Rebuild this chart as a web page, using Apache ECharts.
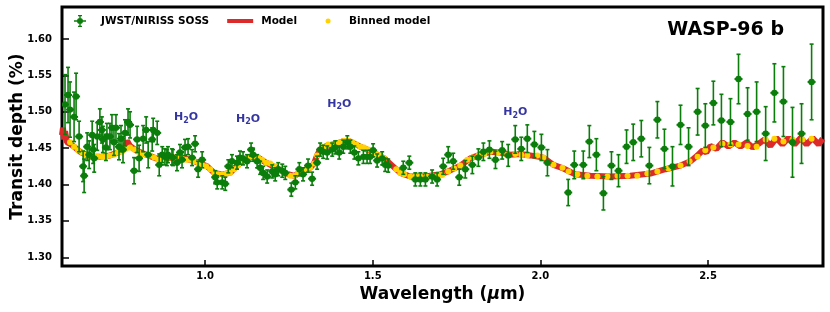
<!DOCTYPE html>
<html>
<head>
<meta charset="utf-8">
<script src="https://cdn.jsdelivr.net/npm/echarts@6.0.0/dist/echarts.min.js"></script>
<style>html,body{margin:0;padding:0;background:#fff}#c{width:830px;height:312px}</style>
</head>
<body>
<div id="c"></div>
<script>
// ---- data (wavelength in micron, transit depth in %) ----
const obsWl = [0.582,0.591,0.597,0.609,0.615,0.624,0.636,0.639,0.648,0.654,0.663,0.666,0.669,0.678,0.686,0.692,0.695,0.704,0.707,0.716,0.722,0.728,0.734,0.743,0.749,0.755,0.761,0.770,0.776,0.788,0.797,0.803,0.815,0.824,0.830,0.842,0.845,0.857,0.863,0.872,0.880,0.886,0.889,0.901,0.904,0.916,0.925,0.931,0.940,0.949,0.961,0.970,0.979,0.991,1.030,1.036,1.051,1.060,1.069,1.080,1.095,1.104,1.113,1.125,1.137,1.143,1.155,1.164,1.173,1.185,1.200,1.209,1.218,1.230,1.239,1.257,1.269,1.281,1.292,1.307,1.319,1.334,1.343,1.352,1.364,1.379,1.388,1.400,1.412,1.424,1.433,1.445,1.457,1.472,1.483,1.492,1.501,1.513,1.528,1.537,1.546,1.591,1.609,1.627,1.642,1.657,1.677,1.692,1.710,1.725,1.740,1.758,1.776,1.797,1.815,1.830,1.848,1.866,1.886,1.904,1.925,1.943,1.961,1.982,2.003,2.021,2.083,2.101,2.128,2.146,2.167,2.188,2.212,2.233,2.257,2.277,2.301,2.325,2.349,2.370,2.394,2.418,2.442,2.469,2.492,2.516,2.540,2.567,2.591,2.618,2.645,2.672,2.698,2.725,2.752,2.779,2.809];
const obsDepth = [1.510,1.523,1.503,1.493,1.521,1.466,1.425,1.412,1.452,1.441,1.468,1.448,1.436,1.466,1.486,1.475,1.462,1.451,1.466,1.466,1.478,1.458,1.478,1.452,1.463,1.448,1.471,1.486,1.482,1.419,1.462,1.436,1.463,1.475,1.441,1.462,1.475,1.471,1.427,1.441,1.438,1.437,1.441,1.438,1.437,1.430,1.444,1.434,1.451,1.452,1.437,1.456,1.421,1.434,1.410,1.403,1.403,1.401,1.425,1.432,1.430,1.437,1.436,1.432,1.448,1.441,1.432,1.423,1.416,1.411,1.418,1.414,1.421,1.419,1.416,1.393,1.403,1.421,1.414,1.426,1.408,1.430,1.448,1.445,1.444,1.448,1.451,1.444,1.452,1.458,1.452,1.444,1.436,1.438,1.438,1.438,1.447,1.433,1.436,1.427,1.426,1.423,1.430,1.407,1.407,1.407,1.411,1.407,1.425,1.441,1.432,1.410,1.421,1.427,1.437,1.445,1.448,1.434,1.447,1.440,1.462,1.449,1.463,1.455,1.451,1.430,1.389,1.427,1.427,1.459,1.441,1.388,1.426,1.419,1.452,1.458,1.463,1.426,1.489,1.449,1.425,1.482,1.452,1.500,1.481,1.512,1.488,1.486,1.545,1.497,1.500,1.470,1.526,1.514,1.458,1.470,1.541];
const obsErr = [0.041,0.038,0.038,0.034,0.032,
  0.021,0.021,0.023,
  0.019,0.019,0.019,0.019,0.019,0.019,
  0.018,0.018,0.018,0.018,0.018,0.018,0.018,0.018,0.018,0.018,0.018,0.018,0.018,0.018,0.018,0.018,0.018,0.018,0.018,0.018,0.018,
  0.016,0.016,0.016,
  0.015,
  0.011,0.011,0.011,0.011,0.011,0.011,0.011,0.011,0.011,0.011,0.011,0.011,0.011,0.011,0.011,
  0.009,0.009,0.009,0.009,0.009,0.009,0.009,0.009,0.009,
  0.009,0.009,0.009,0.009,0.009,0.009,0.009,0.009,0.009,
  0.009,0.009,0.009,0.009,0.009,0.009,0.009,0.009,0.009,
  0.009,0.009,0.009,0.009,0.009,0.009,0.009,0.009,0.009,
  0.009,0.009,0.009,0.009,0.009,0.009,0.009,0.009,0.009,
  0.009,0.009,0.009,0.009,0.009,0.009,0.009,0.009,0.009,
  0.011,0.011,0.011,0.011,
  0.012,0.012,0.012,0.012,0.012,0.012,0.012,
  0.015,0.019,0.016,0.019,0.018,0.018,0.018,
  0.018,0.019,0.019,0.022,0.022,0.023,0.019,0.022,0.023,
  0.025,0.025,0.025,0.025,
  0.027,0.027,0.027,0.026,0.032,0.030,0.030,0.036,0.032,0.034,0.036,0.041,0.037,0.040,0.048,0.048,0.041,0.052];

const modelWl = [0.573,0.576,0.579,0.582,0.588,0.597,0.612,0.627,0.657,0.686,0.716,0.740,0.758,0.767,0.776,0.794,0.824,0.854,0.883,0.925,0.955,0.985,1.006,1.027,1.051,1.074,1.089,1.110,1.134,1.158,1.182,1.212,1.242,1.266,1.289,1.313,1.325,1.334,1.343,1.361,1.391,1.415,1.433,1.463,1.498,1.534,1.558,1.582,1.612,1.657,1.701,1.725,1.761,1.791,1.821,1.851,1.880,1.910,1.940,1.970,2.009,2.039,2.069,2.104,2.149,2.209,2.268,2.328,2.373,2.418,2.448,2.469,2.484,2.495,2.507,2.525,2.543,2.561,2.579,2.597,2.615,2.633,2.651,2.669,2.686,2.704,2.722,2.740,2.758,2.776,2.794,2.812,2.830,2.842];
const modelDepth = [1.468,1.478,1.462,1.473,1.458,1.456,1.451,1.445,1.438,1.438,1.440,1.444,1.448,1.460,1.453,1.447,1.441,1.436,1.436,1.437,1.434,1.429,1.425,1.416,1.414,1.416,1.423,1.432,1.438,1.437,1.430,1.423,1.415,1.412,1.418,1.423,1.429,1.440,1.448,1.453,1.456,1.460,1.459,1.452,1.445,1.436,1.426,1.416,1.411,1.411,1.414,1.418,1.426,1.436,1.441,1.445,1.444,1.441,1.442,1.440,1.437,1.427,1.422,1.414,1.412,1.411,1.412,1.415,1.421,1.426,1.432,1.440,1.447,1.444,1.453,1.449,1.458,1.452,1.458,1.452,1.458,1.451,1.456,1.462,1.453,1.464,1.455,1.464,1.455,1.464,1.455,1.464,1.455,1.463];

const binWl = [0.597,0.609,0.621,0.633,0.645,0.657,0.669,0.680,0.692,0.704,0.716,0.728,0.740,0.752,0.764,0.776,0.788,0.800,0.812,0.824,0.836,0.848,0.860,0.872,0.883,0.895,0.907,0.919,0.931,0.943,0.955,0.967,0.979,0.991,1.003,1.015,1.027,1.039,1.051,1.063,1.074,1.086,1.098,1.110,1.122,1.134,1.146,1.158,1.170,1.182,1.194,1.206,1.218,1.230,1.242,1.254,1.266,1.277,1.289,1.301,1.313,1.325,1.334,1.343,1.355,1.367,1.379,1.391,1.403,1.415,1.427,1.439,1.451,1.463,1.474,1.486,1.498,1.510,1.522,1.534,1.570,1.582,1.594,1.612,1.627,1.642,1.660,1.677,1.695,1.707,1.725,1.743,1.761,1.782,1.797,1.815,1.833,1.851,1.874,1.901,1.925,1.943,1.961,1.991,2.009,2.039,2.066,2.084,2.110,2.140,2.170,2.200,2.230,2.260,2.289,2.319,2.349,2.382,2.418,2.445,2.469,2.492,2.516,2.543,2.567,2.591,2.618,2.645,2.672,2.698,2.725,2.752,2.782,2.809];
const binDepth = [1.458,1.452,1.447,1.444,1.441,1.438,1.438,1.438,1.438,1.438,1.440,1.441,1.444,1.445,1.449,1.451,1.448,1.445,1.442,1.441,1.440,1.437,1.434,1.434,1.436,1.437,1.437,1.437,1.436,1.434,1.434,1.432,1.430,1.427,1.425,1.421,1.416,1.414,1.414,1.415,1.416,1.421,1.426,1.432,1.436,1.438,1.438,1.437,1.434,1.430,1.429,1.425,1.421,1.418,1.415,1.412,1.412,1.415,1.418,1.421,1.423,1.429,1.440,1.448,1.452,1.455,1.455,1.456,1.458,1.460,1.460,1.458,1.455,1.452,1.451,1.448,1.445,1.442,1.440,1.436,1.421,1.416,1.414,1.411,1.411,1.411,1.411,1.412,1.414,1.413,1.418,1.422,1.426,1.434,1.437,1.440,1.442,1.445,1.444,1.441,1.442,1.441,1.440,1.440,1.437,1.427,1.423,1.418,1.414,1.412,1.411,1.411,1.412,1.412,1.412,1.415,1.418,1.422,1.426,1.432,1.438,1.447,1.451,1.456,1.455,1.455,1.453,1.452,1.462,1.463,1.459,1.462,1.462,1.463];

const xTicks = [1.0, 1.5, 2.0, 2.5];
const yTicks = [1.30, 1.35, 1.40, 1.45, 1.50, 1.55, 1.60];
const h2oWl = [0.943, 1.128, 1.400, 1.925];
const h2oDepth = [1.492, 1.490, 1.511, 1.499];

// ---- styling ----
const FONT = 'DejaVu Sans';
const GREEN = '#0b7d0b';
const RED = '#dc2a2a';
const YELLOW = '#ffd200';
const NAVY = '#00008b';

const obsData = obsWl.map((w, i) => [w, obsDepth[i], obsErr[i]]);
const modelData = modelWl.map((w, i) => [w, modelDepth[i]]);
const binData = binWl.map((w, i) => [w, binDepth[i]]);
const h2oData = h2oWl.map((w, i) => [w, h2oDepth[i]]);

const errIcon = 'path://M0,0 M26,12 M12.3,0 h1.4 v12 h-1.4 z M7,5.3 h12 v1.4 h-12 z M11,0 h4 v1.2 h-4 z M11,10.8 h4 v1.2 h-4 z M10,6 a3,3 0 1,1 6,0 a3,3 0 1,1 -6,0 z';
const lineIcon = 'path://M0,0 M26,12 M0,4 h26 v4 h-26 z';
const dotIcon = 'path://M0,0 M26,12 M10.5,6 a2.5,2.5 0 1,1 5,0 a2.5,2.5 0 1,1 -5,0 z';

const chart = echarts.init(document.getElementById('c'), null, {renderer: 'canvas'});
chart.setOption({
  animation: false,
  backgroundColor: '#fff',
  title: {
    text: 'WASP-96 b', right: 46, top: 21, padding: 0,
    textStyle: {fontFamily: FONT, fontSize: 19, fontWeight: 'bold', color: '#000'}
  },
  legend: {
    left: 67, top: 15, padding: 0, itemWidth: 26, itemHeight: 12, itemGap: 18,
    selectedMode: false,
    textStyle: {fontFamily: FONT, fontSize: 10.5, fontWeight: 'bold', color: '#000', padding: [0, 0, 0, 3]},
    data: [
      {name: 'JWST/NIRISS SOSS', icon: errIcon, itemStyle: {color: GREEN}},
      {name: 'Model', icon: lineIcon, itemStyle: {color: RED}},
      {name: 'Binned model', icon: dotIcon, itemStyle: {color: YELLOW}}
    ]
  },
  grid: {left: 62, right: 7, top: 7, bottom: 46, outerBoundsMode: 'none', containLabel: false,
    show: true, borderColor: '#000', borderWidth: 3, backgroundColor: 'transparent'},
  xAxis: {
    type: 'value', min: 0.573, max: 2.843,
    axisLine: {show: false}, splitLine: {show: false},
    axisTick: {inside: true, length: 6, lineStyle: {color: '#000', width: 1.5}, customValues: xTicks},
    axisLabel: {customValues: xTicks, formatter: v => v.toFixed(1), fontFamily: FONT, fontSize: 10, fontWeight: 'bold', color: '#000', margin: 5},
    name: '{b|Wavelength (}{i|μ}{b|m)}', nameLocation: 'middle', nameGap: 19,
    nameTextStyle: {rich: {
      b: {fontFamily: FONT, fontSize: 17, fontWeight: 'bold', color: '#000'},
      i: {fontFamily: FONT, fontSize: 17, fontWeight: 'bold', fontStyle: 'italic', color: '#000'}
    }}
  },
  yAxis: {
    type: 'value', min: 1.288, max: 1.644,
    axisLine: {show: false}, splitLine: {show: false},
    axisTick: {inside: true, length: 7, lineStyle: {color: '#000', width: 1.5}, customValues: yTicks},
    axisLabel: {customValues: yTicks, formatter: v => v.toFixed(2), fontFamily: FONT, fontSize: 10, fontWeight: 'bold', color: '#000', margin: 10},
    name: 'Transit depth (%)', nameLocation: 'middle', nameGap: 36, nameMoveOverlap: false,
    nameTextStyle: {fontFamily: FONT, fontSize: 17, fontWeight: 'bold', color: '#000'}
  },
  series: [
    {
      name: 'Model', type: 'line', data: modelData, showSymbol: false, symbol: 'none',
      lineStyle: {color: RED, width: 6}, itemStyle: {color: RED}, z: 2, clip: true
    },
    {
      name: 'Binned model', type: 'scatter', data: binData, symbolSize: 6,
      itemStyle: {color: YELLOW, opacity: 1}, z: 3
    },
    {
      name: 'JWST/NIRISS SOSS', type: 'custom', data: obsData, z: 4, clip: true,
      itemStyle: {color: GREEN},
      encode: {x: 0, y: 1},
      renderItem: function (params, api) {
        const x = api.value(0), y = api.value(1), e = api.value(2);
        const c = api.coord([x, y]);
        const t = api.coord([x, y + e]);
        const b = api.coord([x, y - e]);
        const st = {stroke: GREEN, lineWidth: 1.6};
        return {type: 'group', children: [
          {type: 'line', shape: {x1: c[0], y1: t[1], x2: c[0], y2: b[1]}, style: st},
          {type: 'line', shape: {x1: c[0] - 2, y1: t[1], x2: c[0] + 2, y2: t[1]}, style: st},
          {type: 'line', shape: {x1: c[0] - 2, y1: b[1], x2: c[0] + 2, y2: b[1]}, style: st},
          {type: 'line', shape: {x1: c[0] - 4, y1: c[1], x2: c[0] + 4, y2: c[1]}, style: {stroke: GREEN, lineWidth: 2}},
          {type: 'circle', shape: {cx: c[0], cy: c[1], r: 3.2}, style: {fill: GREEN}}
        ]};
      }
    },
    {
      name: 'h2o', type: 'scatter', data: h2oData, symbolSize: 0, z: 5, silent: true,
      label: {
        show: true, position: 'inside',
        formatter: '{n|H}{s|2}{n|O}',
        rich: {
          n: {fontFamily: FONT, fontSize: 11, fontWeight: 'bold', color: NAVY},
          s: {fontFamily: FONT, fontSize: 8, fontWeight: 'bold', color: NAVY, padding: [6, 0, 0, 0]}
        }
      }
    }
  ]
});
</script>
</body>
</html>
